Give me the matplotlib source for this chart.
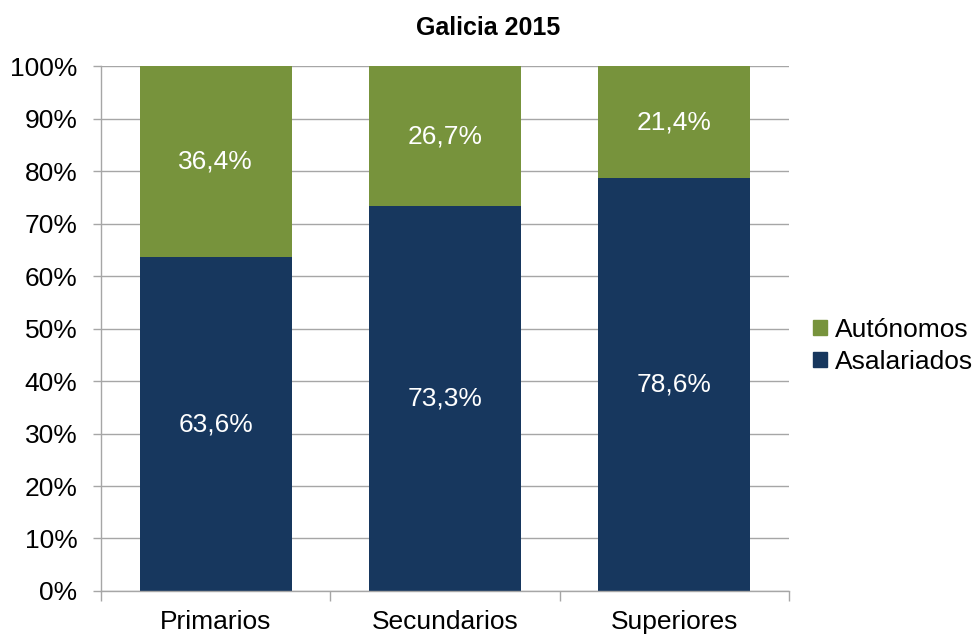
import numpy as np
import matplotlib.pyplot as plt
from matplotlib.patches import Patch

plt.rcParams['font.family'] = ['Liberation Sans', 'DejaVu Sans']

categorias = ['Primarios', 'Secundarios', 'Superiores']
asalariados = [63.6, 73.3, 78.6]
autonomos = [36.4, 26.7, 21.4]

azul = '#17375E'
verde = '#77933C'
gris = '#A6A6A6'

fig = plt.figure(figsize=(9.77, 6.35), dpi=100)
ax = fig.add_axes([0.1034, 0.0693, 0.7042, 0.8267])

x = np.arange(len(categorias))
ancho = 0.663
b1 = ax.bar(x, asalariados, ancho, color=azul, zorder=3)
b2 = ax.bar(x, autonomos, ancho, bottom=asalariados, color=verde, zorder=3)

# etiquetas con coma decimal
for barras, vals in ((b1, asalariados), (b2, autonomos)):
    for r, v in zip(barras, vals):
        ax.text(r.get_x() + r.get_width() / 2, r.get_y() + r.get_height() / 2,
                f'{v:.1f}%'.replace('.', ','), ha='center', va='center',
                color='white', fontsize=19, zorder=4)

ax.set_xlim(-0.5, len(categorias) - 0.5)
ax.set_ylim(0, 100)
ax.set_yticks(np.arange(0, 101, 10))
ax.set_yticklabels([f'{t}%' for t in range(0, 101, 10)], fontsize=19)
ax.set_xticks(x)
ax.set_xticklabels(categorias, fontsize=19)
ax.set_xticks(np.arange(-0.5, len(categorias)), minor=True)
ax.tick_params(axis='x', which='major', length=0, pad=14)
ax.tick_params(axis='x', which='minor', length=7, color=gris, width=1)
ax.tick_params(axis='y', length=6, color=gris, width=1, pad=11)

ax.grid(axis='y', color=gris, linewidth=1, zorder=0)
for s in ['top', 'right']:
    ax.spines[s].set_visible(False)
for s in ['left', 'bottom']:
    ax.spines[s].set_color(gris)
    ax.spines[s].set_linewidth(1)
    ax.spines[s].set_zorder(5)

fig.suptitle('Galicia 2015', x=0.5, y=0.956, va='center',
             fontsize=18, fontweight='bold')

handles = [Patch(color=verde, label='Autónomos'),
           Patch(color=azul, label='Asalariados')]
fig.legend(handles=handles, loc='center left', bbox_to_anchor=(0.819, 0.455),
           frameon=False, fontsize=19, handlelength=0.5, handleheight=0.5,
           handletextpad=0.3, labelspacing=0.3, borderpad=0)

fig.savefig('out.png', dpi=100)
